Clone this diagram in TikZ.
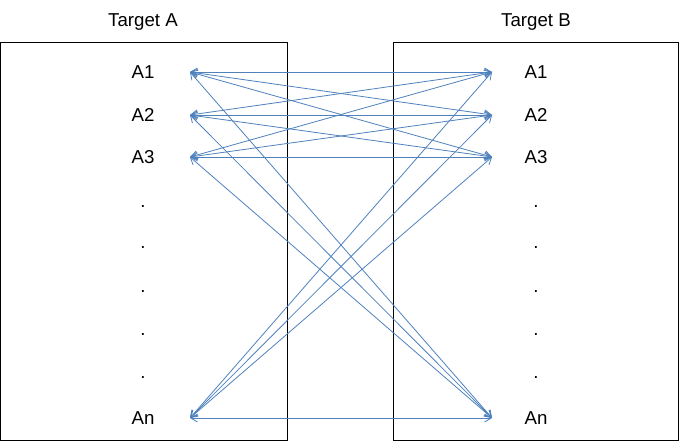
\documentclass[tikz,border=0pt]{standalone}
\usepackage{fontspec}
\setmainfont{Liberation Sans}
\usetikzlibrary{arrows.meta}
\begin{document}
\begin{tikzpicture}[x=0.75pt, y=-0.75pt,
        every node/.style={font=\fontsize{14}{16}\selectfont},
        targetBox/.style={draw, line width=0.6pt},
        itemNode/.style={inner sep=1pt},
        linkArrow/.style={{Straight Barb[length=5pt,width=6pt]}-{Straight Barb[length=5pt,width=6pt]}, draw={rgb,255:red,79;green,129;blue,189}, line width=0.6pt}
    ]
        \useasboundingbox (0,0) rectangle (681,445);

        % Boxes and titles
        \draw[targetBox] (0,42) rectangle (287,440);
        \draw[targetBox] (393,42) rectangle (678,440);
        \node (titleA) at (143,22) {Target A};
        \node (titleB) at (536,22) {Target B};

        % Items
        \foreach \name/\txt/\y in {1/A1/72, 2/A2/115, 3/A3/157, n/An/418} {
            \node[itemNode] (a\name) at (143,\y) {\txt};
            \node[itemNode] (b\name) at (536,\y) {\txt};
            \coordinate (pa\name) at (190,\y);
            \coordinate (pb\name) at (492,\y);
        }
        \foreach \y in {207,248,292,335,378} {
            \node at (143,\y) {.};
            \node at (536,\y) {.};
        }

        % Links
        \foreach \i in {1,2,3,n} {
            \foreach \j in {1,2,3,n} {
                \draw[linkArrow] (pa\i) -- (pb\j);
            }
        }
    \end{tikzpicture}
\end{document}
